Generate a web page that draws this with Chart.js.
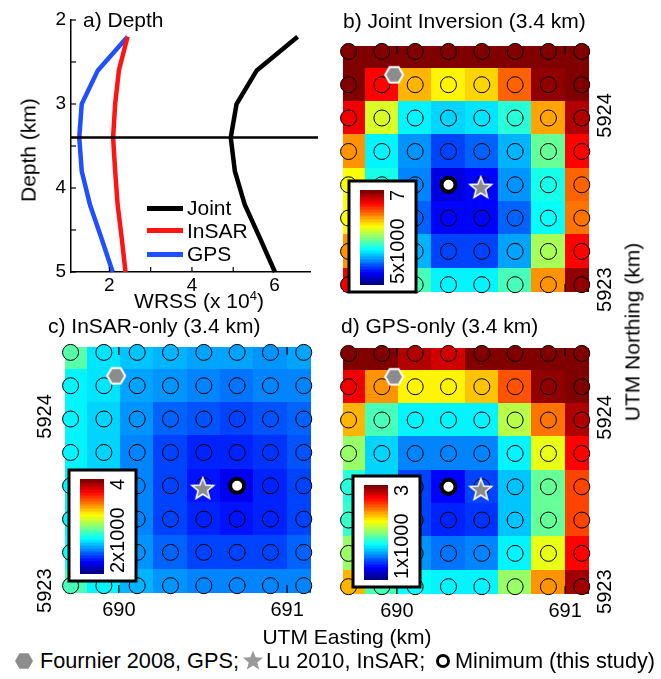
<!DOCTYPE html>
<html>
<head>
<meta charset="utf-8">
<script src="https://cdn.jsdelivr.net/npm/chart.js@4.4.1/dist/chart.umd.min.js"></script>
<style>
  html, body { margin: 0; padding: 0; background: #fff; }
  #fig { position: relative; width: 661px; height: 679px; overflow: hidden;
         font-family: 'Liberation Sans', Arial, sans-serif; color: #000; }
  #fig canvas { position: absolute; }
  .t { position: absolute; font-size: 21px; line-height: 1; white-space: nowrap; transform: translateY(-50%); }
  .k { font-size: 21.7px; }
  .c { transform: translate(-50%, -50%); }
  .r { transform: translate(-50%, -50%) rotate(-90deg); }
  .leg-line { position: absolute; width: 36px; height: 5px; }
  svg { position: absolute; overflow: visible; }
</style>
</head>
<body>
<div id="fig">
  <canvas id="depth-chart" width="330" height="315" style="left:0;top:0"></canvas>
  <canvas id="joint-map" width="331" height="300" style="left:330px;top:30px"></canvas>
  <canvas id="insar-map" width="330" height="300" style="left:0;top:330px"></canvas>
  <canvas id="gps-map" width="331" height="300" style="left:330px;top:330px"></canvas>

  <!-- panel a labels -->
  <div class="t" style="left:83px;top:19px">a) Depth</div>
  <div class="t r" style="left:28px;top:150px">Depth (km)</div>
  <div class="t c" style="left:199px;top:300px">WRSS (x 10<span style="font-size:13px;position:relative;top:-8px">4</span>)</div>
  <div class="leg-line" style="left:147px;top:206px;background:#000"></div>
  <div class="leg-line" style="left:147px;top:228px;background:#ff1414"></div>
  <div class="leg-line" style="left:147px;top:252px;background:#1f4fff"></div>
  <div class="t" style="left:187px;top:207px">Joint</div>
  <div class="t" style="left:187px;top:230px">InSAR</div>
  <div class="t" style="left:187px;top:253px">GPS</div>

  <!-- map panel labels -->
  <div class="t" style="left:343px;top:20px">b) Joint Inversion (3.4 km)</div>
  <div class="t" style="left:48px;top:325px">c) InSAR-only (3.4 km)</div>
  <div class="t" style="left:341px;top:325px">d) GPS-only (3.4 km)</div>
  <div class="t r" style="left:632px;top:332px">UTM Northing (km)</div>
  <div class="t c" style="left:347px;top:636px">UTM Easting (km)</div>

  <!-- bottom key -->
  <svg style="left:24px;top:661px" width="1" height="1">
    <polygon points="9,0 4.5,7.8 -4.5,7.8 -9,0 -4.5,-7.8 4.5,-7.8" fill="#8c8c8c"/>
  </svg>
  <div class="t k" style="left:40px;top:661px">Fournier 2008, GPS;</div>
  <svg style="left:253px;top:661px" width="1" height="1">
    <polygon id="key-star" fill="#999" points=""/>
  </svg>
  <div class="t k" style="left:266px;top:661px">Lu 2010, InSAR;</div>
  <svg style="left:443px;top:661px" width="1" height="1">
    <circle cx="0" cy="0" r="5.5" fill="#fff" stroke="#000" stroke-width="3"/>
  </svg>
  <div class="t k" style="left:455px;top:661px">Minimum (this study)</div>
</div>

<script>
// ---- panel a: misfit vs source depth ----
const depthKm   = [2.2, 2.6, 3.0, 3.4, 3.8, 4.2, 4.6, 5.0];
const wrssJoint = [6.56, 5.57, 5.08, 4.94, 5.04, 5.28, 5.65, 6.01];
const wrssInsar = [2.44, 2.23, 2.14, 2.09, 2.14, 2.20, 2.30, 2.39];
const wrssGps   = [2.44, 1.72, 1.33, 1.27, 1.33, 1.53, 1.81, 2.08];
const bestDepth = 3.4;
const wrssTickLabels = [2, 4, 6];
const depthTickLabels = [2, 3, 4, 5];

// ---- panels b-d: grid search at 3.4 km (UTM km) ----
const eastingKm  = [689.713, 689.911, 690.109, 690.307, 690.505, 690.703, 690.901, 691.099];
const northingKm = [5924.367, 5924.176, 5923.985, 5923.793, 5923.602, 5923.411, 5923.220, 5923.029];
const eastTicks  = [690, 691];
const northTicks = [5923, 5924];
const fournier2008 = [689.984, 5924.233];
const lu2010       = [690.499, 5923.583];

// WRSS x1000, rows north -> south, columns west -> east
const jointWrss = [
  [7.20, 7.20, 7.10, 7.10, 7.10, 7.20, 7.30, 7.40],
  [7.00, 6.74, 6.38, 6.28, 6.34, 6.56, 6.94, 7.10],
  [6.76, 6.16, 5.74, 5.66, 5.70, 5.84, 6.42, 6.90],
  [6.44, 5.74, 5.56, 5.40, 5.44, 5.62, 5.94, 6.74],
  [6.24, 5.80, 5.50, 5.20, 5.28, 5.54, 5.80, 6.54],
  [6.24, 5.76, 5.44, 5.26, 5.28, 5.46, 5.76, 6.50],
  [6.44, 5.90, 5.60, 5.38, 5.40, 5.58, 6.08, 6.74],
  [6.76, 6.24, 5.90, 5.72, 5.74, 5.90, 6.44, 6.94]
];
const insarWrss = [
  [2.92, 2.70, 2.64, 2.60, 2.58, 2.58, 2.56, 2.58],
  [2.74, 2.70, 2.58, 2.54, 2.50, 2.48, 2.50, 2.52],
  [2.72, 2.66, 2.54, 2.44, 2.42, 2.40, 2.42, 2.46],
  [2.72, 2.66, 2.52, 2.40, 2.34, 2.32, 2.36, 2.42],
  [2.74, 2.66, 2.52, 2.38, 2.30, 2.24, 2.34, 2.40],
  [2.74, 2.66, 2.52, 2.38, 2.32, 2.30, 2.34, 2.40],
  [2.76, 2.68, 2.54, 2.44, 2.40, 2.38, 2.40, 2.44],
  [2.88, 2.72, 2.60, 2.54, 2.52, 2.50, 2.50, 2.52]
];
const gpsWrss = [
  [3.10, 3.00, 2.88, 2.84, 3.00, 3.10, 3.20, 3.30],
  [2.76, 2.44, 2.28, 2.26, 2.36, 2.58, 2.94, 3.10],
  [2.40, 1.88, 1.74, 1.74, 1.74, 2.10, 2.52, 2.90],
  [2.04, 1.68, 1.52, 1.50, 1.52, 1.74, 2.20, 2.74],
  [1.84, 1.66, 1.40, 1.26, 1.40, 1.64, 1.94, 2.60],
  [1.86, 1.70, 1.40, 1.32, 1.36, 1.64, 1.96, 2.60],
  [2.04, 1.80, 1.54, 1.48, 1.50, 1.74, 2.20, 2.74],
  [2.40, 1.90, 1.76, 1.74, 1.74, 2.06, 2.44, 2.92]
];
const jointRange = [5, 7];
const insarRange = [2, 4];
const gpsRange   = [1, 3];

const FONT = "'Liberation Sans', Arial, sans-serif";
Chart.defaults.font.family = FONT;
Chart.defaults.color = '#000';

// matlab-style jet(64)
function jet(t) {
    const c = v => Math.round(255 * Math.min(1, Math.max(0, v)));
    return `rgb(${c(Math.min(4 * t - 1.5, -4 * t + 4.5))},${c(Math.min(4 * t - 0.5, -4 * t + 3.5))},${c(Math.min(4 * t + 0.5, -4 * t + 2.5))})`;
}
function jetColor(v, range) {
    const t = Math.min(1, Math.max(0, (v - range[0]) / (range[1] - range[0])));
    return jet(Math.min(63, Math.floor(t * 64)) / 63);
}

function line(ctx, x0, y0, x1, y1) {
    ctx.beginPath(); ctx.moveTo(x0, y0); ctx.lineTo(x1, y1); ctx.stroke();
}

// inward ticks + best-depth line for panel a
const depthExtras = {
    id: 'depthExtras',
    afterDraw(chart) {
        const { ctx, chartArea: a, scales: { x, y } } = chart;
        ctx.save();
        ctx.strokeStyle = '#000';
        ctx.lineWidth = 1.2;
        x.ticks.forEach(t => {
            const px = x.getPixelForValue(t.value);
            line(ctx, px, a.bottom, px, a.bottom - 5);
        });
        y.ticks.forEach(t => {
            const py = y.getPixelForValue(t.value);
            line(ctx, a.left, py, a.left + 5, py);
        });
        ctx.lineWidth = 2.5;
        const py = y.getPixelForValue(bestDepth);
        line(ctx, a.left, py, a.right + 8, py);
        ctx.restore();
    }
};

new Chart(document.getElementById('depth-chart'), {
    type: 'scatter',
    data: {
        datasets: [
            { label: 'Joint', data: depthKm.map((d, i) => ({ x: wrssJoint[i], y: d })), borderColor: '#000' },
            { label: 'InSAR', data: depthKm.map((d, i) => ({ x: wrssInsar[i], y: d })), borderColor: '#ff1414' },
            { label: 'GPS', data: depthKm.map((d, i) => ({ x: wrssGps[i], y: d })), borderColor: '#1f4fff' }
        ].map(ds => Object.assign(ds, { showLine: true, borderWidth: 4.5, pointRadius: 0, clip: false }))
    },
    options: {
        responsive: false,
        animation: false,
        events: [],
        layout: { padding: { left: 0, right: 20, top: 20, bottom: 0 } },
        plugins: { legend: { display: false }, tooltip: { enabled: false } },
        scales: {
            x: {
                type: 'linear', min: 1.07, max: 6.86,
                grid: { display: false, drawTicks: false },
                border: { color: '#000', width: 1.5 },
                ticks: {
                    stepSize: 1, includeBounds: false, autoSkip: false, padding: 2, maxRotation: 0,
                    font: { size: 19 },
                    callback: v => wrssTickLabels.includes(v) ? String(v) : ''
                },
                afterFit: s => { s.height = 43; }
            },
            y: {
                type: 'linear', min: 2, max: 5, reverse: true,
                grid: { display: false, drawTicks: false },
                border: { color: '#000', width: 1.5 },
                ticks: {
                    stepSize: 0.5, includeBounds: false, autoSkip: false, padding: 5,
                    font: { size: 19 },
                    callback: v => depthTickLabels.includes(v) ? String(v) : ''
                },
                afterFit: s => { s.width = 71; }
            }
        }
    },
    plugins: [depthExtras]
});

// ---- map panels ----
const gridMap = {
    id: 'gridMap',
    beforeDatasetsDraw(chart, args, opts) {
        const { ctx, chartArea: a, scales: { x, y } } = chart;
        const dx = (eastingKm[1] - eastingKm[0]) / 2;
        const dy = (northingKm[0] - northingKm[1]) / 2;
        ctx.save();
        ctx.beginPath();
        ctx.rect(a.left, a.top, a.width, a.height);
        ctx.clip();
        opts.values.forEach((row, i) => row.forEach((v, j) => {
            const x0 = Math.floor(x.getPixelForValue(eastingKm[j] - dx));
            const x1 = Math.ceil(x.getPixelForValue(eastingKm[j] + dx));
            const y0 = Math.floor(y.getPixelForValue(northingKm[i] + dy));
            const y1 = Math.ceil(y.getPixelForValue(northingKm[i] - dy));
            ctx.fillStyle = jetColor(v, opts.range);
            ctx.fillRect(x0, y0, x1 - x0, y1 - y0);
        }));
        ctx.restore();

        // inward ticks (sit under the circles)
        ctx.save();
        ctx.strokeStyle = '#000';
        ctx.lineWidth = 1.3;
        eastTicks.forEach(e => {
            const px = x.getPixelForValue(e);
            line(ctx, px, a.top, px, a.top + 8);
            line(ctx, px, a.bottom, px, a.bottom - 8);
        });
        northTicks.forEach(n => {
            const py = y.getPixelForValue(n);
            line(ctx, a.left, py, a.left + 8, py);
            line(ctx, a.right, py, a.right - 8, py);
        });
        ctx.restore();

        // tick labels
        ctx.save();
        ctx.fillStyle = '#000';
        ctx.font = `20px ${FONT}`;
        ctx.textAlign = 'center';
        ctx.textBaseline = 'middle';
        if (opts.eastLabels) {
            eastTicks.forEach(e => ctx.fillText(String(e), x.getPixelForValue(e), a.bottom + 17));
        }
        northTicks.forEach(n => {
            const px = opts.northSide === 'left' ? a.left - 20 : a.right + 16;
            ctx.save();
            ctx.translate(px, y.getPixelForValue(n));
            ctx.rotate(-Math.PI / 2);
            ctx.fillText(String(n), 0, 0);
            ctx.restore();
        });
        ctx.restore();
    },
    afterDatasetsDraw(chart, args, opts) {
        const { ctx, chartArea: a } = chart;
        const bx = a.left + opts.colorbar[0], by = a.top + opts.colorbar[1];
        const bw = 67, bh = 111;
        ctx.save();
        ctx.fillStyle = '#fff';
        ctx.fillRect(bx, by, bw, bh);
        ctx.strokeStyle = '#000';
        ctx.lineWidth = 3;
        ctx.strokeRect(bx, by, bw, bh);
        const gx = bx + 11, gy = by + 9, gw = 24, gh = 94;
        for (let k = 0; k < 64; k++) {
            ctx.fillStyle = jet(k / 63);
            const y0 = gy + gh - (k + 1) * gh / 64;
            ctx.fillRect(gx, Math.floor(y0), gw, Math.ceil(gh / 64) + 1);
        }
        ctx.fillStyle = '#000';
        ctx.font = `20px ${FONT}`;
        ctx.textBaseline = 'middle';
        ctx.translate(bx + 49, gy + gh);
        ctx.rotate(-Math.PI / 2);
        ctx.textAlign = 'left';
        ctx.fillText(opts.range[0] + 'x1000', 0, 0);
        ctx.textAlign = 'right';
        ctx.fillText(String(opts.range[1]), gh, 0);
        ctx.restore();
    }
};

function markerCanvas(draw) {
    const c = document.createElement('canvas');
    c.width = c.height = 28;
    const g = c.getContext('2d');
    g.translate(14, 14);
    draw(g);
    return c;
}
function starPath(g, ro, ri) {
    g.beginPath();
    for (let k = 0; k < 10; k++) {
        const r = k % 2 ? ri : ro;
        const ang = -Math.PI / 2 + k * Math.PI / 5;
        k ? g.lineTo(r * Math.cos(ang), r * Math.sin(ang)) : g.moveTo(r * Math.cos(ang), r * Math.sin(ang));
    }
    g.closePath();
}
const hexMarker = markerCanvas(g => {
    g.beginPath();
    for (let k = 0; k < 6; k++) {
        const ang = k * Math.PI / 3;
        k ? g.lineTo(9 * Math.cos(ang), 9 * Math.sin(ang)) : g.moveTo(9, 0);
    }
    g.closePath();
    g.fillStyle = '#8c8c8c'; g.fill();
    g.strokeStyle = '#fff'; g.lineWidth = 2; g.stroke();
});
const starMarker = markerCanvas(g => {
    starPath(g, 11.5, 5);
    g.fillStyle = '#8c8c8c'; g.fill();
    g.strokeStyle = '#fff'; g.lineWidth = 1.5; g.stroke();
});

// key star in svg
(() => {
    const pts = [];
    for (let k = 0; k < 10; k++) {
        const r = k % 2 ? 4.5 : 10.5;
        const ang = -Math.PI / 2 + k * Math.PI / 5;
        pts.push((r * Math.cos(ang)).toFixed(2) + ',' + (r * Math.sin(ang)).toFixed(2));
    }
    document.getElementById('key-star').setAttribute('points', pts.join(' '));
})();

function mapChart(id, values, range, padding, colorbar, eastLabels, northSide) {
    const points = [], colors = [];
    let best = null;
    values.forEach((row, i) => row.forEach((v, j) => {
        points.push({ x: eastingKm[j], y: northingKm[i] });
        colors.push(jetColor(v, range));
        if (!best || v < best.v) best = { v, x: eastingKm[j], y: northingKm[i] };
    }));
    return new Chart(document.getElementById(id), {
        type: 'scatter',
        data: {
            datasets: [
                { data: [{ x: fournier2008[0], y: fournier2008[1] }], pointStyle: hexMarker, pointRadius: 10, order: 1 },
                { data: [{ x: lu2010[0], y: lu2010[1] }], pointStyle: starMarker, pointRadius: 10, order: 1 },
                { data: [{ x: best.x, y: best.y }], pointStyle: 'circle', pointRadius: 7, borderWidth: 4,
                  borderColor: '#000', backgroundColor: '#fff', order: 2 },
                { data: points, pointStyle: 'circle', pointRadius: 8, borderWidth: 1,
                  borderColor: '#000', backgroundColor: colors, order: 5 }
            ].map(ds => Object.assign(ds, { clip: false }))
        },
        options: {
            responsive: false,
            animation: false,
            events: [],
            layout: { padding },
            plugins: {
                legend: { display: false },
                tooltip: { enabled: false },
                gridMap: { values, range, colorbar, eastLabels, northSide }
            },
            scales: {
                x: { type: 'linear', display: false, min: 689.68, max: 691.142 },
                y: { type: 'linear', display: false, min: 5922.987, max: 5924.398 }
            }
        },
        plugins: [gridMap]
    });
}

mapChart('joint-map', jointWrss, jointRange, { left: 13, right: 72, top: 16, bottom: 38 }, [6, 135], false, 'right');
mapChart('insar-map', insarWrss, insarRange, { left: 65, right: 19, top: 17, bottom: 37 }, [4, 123], true, 'left');
mapChart('gps-map', gpsWrss, gpsRange, { left: 13, right: 72, top: 18, bottom: 36 }, [10, 128], true, 'right');
</script>
</body>
</html>
